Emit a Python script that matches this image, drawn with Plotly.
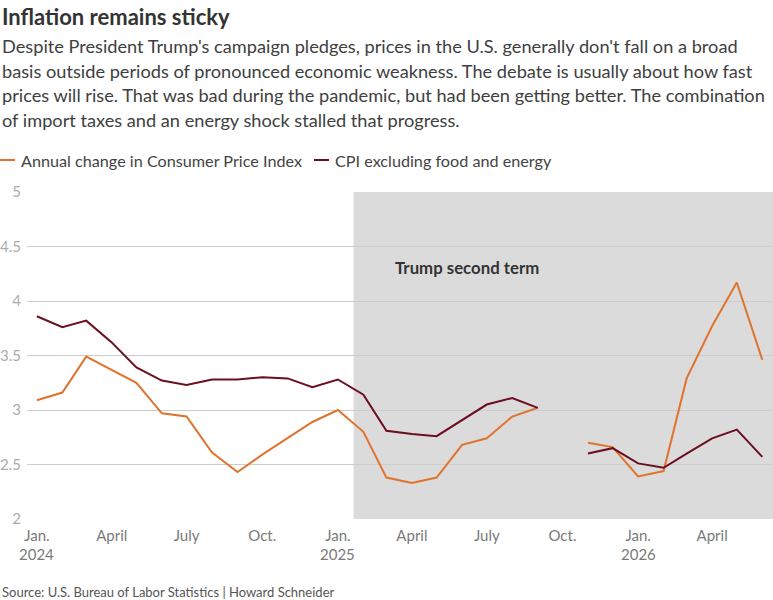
import plotly.graph_objects as go

# ---------------- data ----------------
months = [
    "2024-01-01", "2024-02-01", "2024-03-01", "2024-04-01", "2024-05-01", "2024-06-01",
    "2024-07-01", "2024-08-01", "2024-09-01", "2024-10-01", "2024-11-01", "2024-12-01",
    "2025-01-01", "2025-02-01", "2025-03-01", "2025-04-01", "2025-05-01", "2025-06-01",
    "2025-07-01", "2025-08-01", "2025-09-01", "2025-10-01", "2025-11-01", "2025-12-01",
    "2026-01-01", "2026-02-01", "2026-03-01", "2026-04-01", "2026-05-01", "2026-06-01",
]
cpi = [3.09, 3.16, 3.49, 3.37, 3.25, 2.97, 2.94, 2.61, 2.43, 2.59, 2.74, 2.89,
       3.00, 2.80, 2.38, 2.33, 2.38, 2.68, 2.74, 2.94, 3.02, None, 2.70, 2.66,
       2.39, 2.44, 3.29, 3.77, 4.17, 3.46]
core = [3.86, 3.76, 3.82, 3.62, 3.39, 3.27, 3.23, 3.28, 3.28, 3.30, 3.29, 3.21,
        3.28, 3.14, 2.81, 2.78, 2.76, 2.91, 3.05, 3.11, 3.02, None, 2.60, 2.65,
        2.51, 2.47, 2.60, 2.74, 2.82, 2.57]
series_names = ["Annual change in Consumer Price Index", "CPI excluding food and energy"]
series_colors = ["#e0732e", "#6b0e1e"]

tick_dates = ["2024-01-01", "2024-04-01", "2024-07-01", "2024-10-01",
              "2025-01-01", "2025-04-01", "2025-07-01", "2025-10-01",
              "2026-01-01", "2026-04-01"]
tick_text = ["Jan.", "April", "July", "Oct.", "Jan.", "April", "July",
             "Oct.", "Jan.", "April"]
year_dates = ["2024-01-01", "2025-01-01", "2026-01-01"]
year_text = ["2024", "2025", "2026"]
y_ticks = [2, 2.5, 3, 3.5, 4, 4.5, 5]
y_tick_text = ["2", "2.5", "3", "3.5", "4", "4.5", "5"]

term_start = "2025-01-20"
title = "Inflation remains sticky"
subtitle_lines = [
    "Despite President Trump's campaign pledges, prices in the U.S. generally don't fall on a broad",
    "basis outside periods of pronounced economic weakness. The debate is usually about how fast",
    "prices will rise. That was bad during the pandemic, but had been getting better. The combination",
    "of import taxes and an energy shock stalled that progress.",
]
source = "Source: U.S. Bureau of Labor Statistics | Howard Schneider"

# ---------------- layout geometry ----------------
W, H = 773, 600
L, R, T, B = 27, 0, 192, 81
PW, PH = W - L - R, H - T - B
FONT = "Lato"


def px(x):
    return (x - L) / PW


def py(y):
    return (H - B - y) / PH


fig = go.Figure()
for vals, name, col in zip([cpi, core], series_names, series_colors):
    fig.add_trace(go.Scatter(x=months, y=vals, mode="lines", name=name,
                             line=dict(color=col, width=2), showlegend=False))

shapes = [
    dict(type="rect", xref="x", yref="paper", x0=term_start, x1="2026-07-15",
         y0=0, y1=1, fillcolor="#dbdbdb", line=dict(width=0), layer="below"),
]
annotations = [
    dict(text="<b>" + title + "</b>", x=px(0), y=py(16), xref="paper", yref="paper",
         xanchor="left", yanchor="middle", showarrow=False,
         font=dict(family=FONT, size=22, color="#333333")),
]
for i, line in enumerate(subtitle_lines):
    annotations.append(dict(text=line, x=px(0), y=py(46 + i * 24.7), xref="paper",
                            yref="paper", xanchor="left", yanchor="middle",
                            showarrow=False,
                            font=dict(family=FONT, size=18.2, color="#404040")))

# custom legend
leg_x = [0, 314]
for (lx, name, col) in zip(leg_x, series_names, series_colors):
    shapes.append(dict(type="line", xref="paper", yref="paper", x0=px(lx), x1=px(lx + 15),
                       y0=py(160), y1=py(160), line=dict(color=col, width=2)))
    annotations.append(dict(text=name, x=px(lx + 19), y=py(160), xref="paper", yref="paper",
                            xanchor="left", yanchor="middle", showarrow=False,
                            font=dict(family=FONT, size=16.2, color="#444444")))

annotations.append(dict(text="<b>Trump second term</b>", x=px(393), y=py(267),
                        xref="paper", yref="paper", xanchor="left", yanchor="middle",
                        showarrow=False, font=dict(family=FONT, size=16.8, color="#333333")))
annotations.append(dict(text=source, x=px(0), y=py(592), xref="paper", yref="paper",
                        xanchor="left", yanchor="middle", showarrow=False,
                        font=dict(family=FONT, size=13, color="#555555")))
for d, t in zip(year_dates, year_text):
    annotations.append(dict(text=t, x=d, y=py(554), xref="x", yref="paper",
                            xanchor="center", yanchor="middle", showarrow=False,
                            font=dict(family=FONT, size=15, color="#7a7a7a")))

fig.update_layout(
    width=W, height=H,
    margin=dict(l=L, r=R, t=T, b=B),
    paper_bgcolor="white", plot_bgcolor="white",
    shapes=shapes, annotations=annotations,
    xaxis=dict(type="date", range=["2023-12-20", "2026-06-14"],
               tickvals=tick_dates, ticktext=tick_text, showgrid=False,
               zeroline=False, showline=False, ticks="", ticklabelstandoff=6,
               tickfont=dict(family=FONT, size=15, color="#7a7a7a")),
    yaxis=dict(range=[2, 5], tickvals=y_ticks, ticktext=y_tick_text,
               showgrid=True, gridcolor="#cdcdcd", gridwidth=1, zeroline=False,
               showline=False, ticks="", ticklabelstandoff=5,
               tickfont=dict(family=FONT, size=15, color="#ababab")),
)

fig.write_html("out.html")
